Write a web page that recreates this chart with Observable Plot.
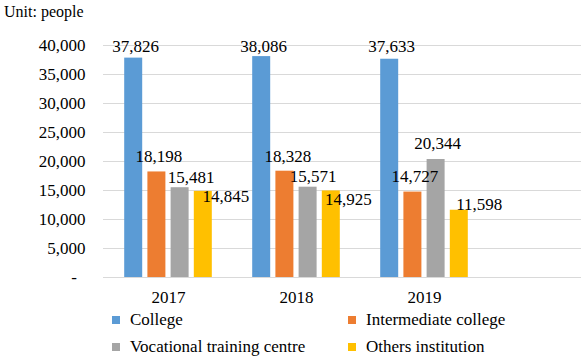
<!DOCTYPE html>
<html><head><meta charset="utf-8">
<script src="https://cdn.jsdelivr.net/npm/d3@7"></script>
<script src="https://cdn.jsdelivr.net/npm/@observablehq/plot@0.6"></script>
<style>
html,body{margin:0;background:#fff;color:#000;}
#title{height:24px;line-height:24px;font-size:16px;padding-left:4px;font-family:'Liberation Serif',serif;}
#legend{display:grid;grid-template-columns:236px 240px;margin-left:112px;margin-top:-2px;font-size:17px;font-family:'Liberation Serif',serif;}
.item{display:flex;align-items:center;height:27px;white-space:nowrap;font-family:'Liberation Serif',serif;}
.sw{width:8px;height:8px;margin-right:10px;flex:none;}
</style></head><body>
<div id="title">Unit: people</div>
<div id="chart"></div>
<div id="legend"></div>
<script>
// ---- data ----
const years = ["2017", "2018", "2019"];
const series = ["College", "Intermediate college", "Vocational training centre", "Others institution"];
const college = [37826, 38086, 37633];
const intermediate = [18198, 18328, 14727];
const vocational = [15481, 15571, 20344];
const others = [14845, 14925, 11598];
const yTicks = [0, 5000, 10000, 15000, 20000, 25000, 30000, 35000, 40000];

// ---- style ----
const colors = ["#5B9BD5", "#ED7D31", "#A5A5A5", "#FFC000"];
const values = [college, intermediate, vocational, others];
const groupStep = 23.2; // px between bars in a group
// manual label nudges (dx from bar centre, dy of baseline from bar top), like Excel's hand-placed labels
const labelNudge = [
  [[2, -6], [2, -4.5], [2, -7]],
  [[2, -10], [3, -9], [2, -10]],
  [[11, -5], [5, -5], [1.5, -10.5]],
  [[22.5, 11], [17, 14.5], [20, 0]]
];

const fmt = d3.format(",");
const marks = [Plot.ruleY(yTicks, {stroke: "#d9d9d9", strokeWidth: 1})];
series.forEach((s, i) => {
  const rows = years.map((y, j) => ({year: y, value: values[i][j], series: s, j}));
  const dx = (i - 1.5) * groupStep;
  marks.push(Plot.barY(rows, {x: "year", y: "value", fill: colors[i], dx}));
});
series.forEach((s, i) => {
  const dx = (i - 1.5) * groupStep;
  years.forEach((y, j) => {
    const row = {year: y, value: values[i][j]};
    marks.push(Plot.text([row], {
      x: "year", y: "value", text: d => fmt(d.value),
      lineAnchor: "bottom", textAnchor: "middle", fill: "#000",
      dx: dx + labelNudge[i][j][0], dy: labelNudge[i][j][1]
    }));
  });
});

const chart = Plot.plot({
  width: 581,
  height: 284,
  marginLeft: 103,
  marginRight: 0,
  marginTop: 21,
  marginBottom: 31,
  style: {fontSize: "17px", color: "#000", background: "#fff", fontFamily: "Liberation Serif"},
  x: {domain: years, range: [103, 488.5], paddingInner: 0.856, paddingOuter: 0.428, tickSize: 0, tickPadding: 13, label: null},
  y: {domain: [0, 40000], ticks: yTicks, tickSize: 0, tickPadding: 18, label: null,
      tickFormat: d => d === 0 ? "-\u2002" : fmt(d)},
  marks
});
d3.select(chart).selectAll("text").style("font-family", "Liberation Serif").style("font-size", "17px");
document.getElementById("chart").appendChild(chart);

const legend = document.getElementById("legend");
series.forEach((s, i) => {
  const it = document.createElement("div");
  it.className = "item";
  const sw = document.createElement("span");
  sw.className = "sw";
  sw.style.background = colors[i];
  it.appendChild(sw);
  const t = document.createElement("span");
  t.textContent = s;
  it.appendChild(t);
  legend.appendChild(it);
});
</script>
</body></html>
